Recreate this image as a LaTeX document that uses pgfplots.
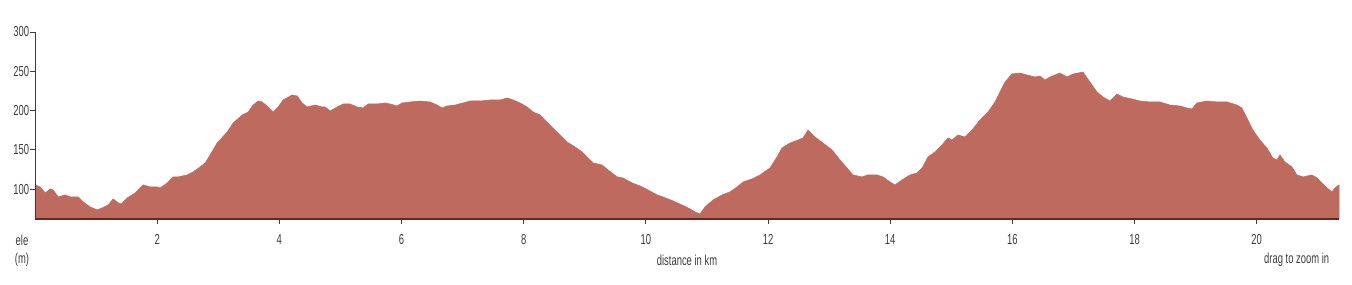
\documentclass[border=0pt]{standalone}
\usepackage{pgfplots}
\pgfplotsset{compat=1.18}
\usepackage{fontspec}
\setmainfont{Liberation Sans}[FakeStretch=0.65]
\definecolor{areafill}{RGB}{191,106,95}
\definecolor{baseline}{RGB}{92,45,40}
\definecolor{txt}{RGB}{60,60,60}
\begin{document}
\fontsize{14pt}{17pt}\selectfont
\begin{tikzpicture}[x=1pt,y=1pt]
\useasboundingbox (0,0) rectangle (1352,284);
\begin{axis}[
  at={(35pt,65pt)}, anchor=south west,
  scale only axis, width=1304pt, height=187pt,
  xmin=0, xmax=21.347, ymin=62, ymax=300,
  axis lines=left, axis line style={-},
  axis on top=true,
  x axis line style={draw=baseline, line width=2.5pt},
  y axis line style={draw=txt, line width=0.8pt},
  xtick={2,4,...,20}, ytick={100,150,...,300},
  tick align=outside, major tick length=5pt,
  tick style={draw=txt, line width=0.8pt},
  every tick label/.append style={font=\fontsize{14.5pt}{17pt}\selectfont, text=txt},
  /pgf/number format/assume math mode=true,
  xticklabel style={yshift=-6pt},
  yticklabel style={xshift=4pt},
  xlabel={distance in km},
  xlabel style={at={(rel axis cs:0.5,0)}, anchor=center, yshift=-41pt, font=\fontsize{14.5pt}{17pt}\selectfont, text=txt},
  clip=false,
]
\addplot[fill=areafill, draw=areafill, line width=0.5pt] table {
x y
0.000 105.4
0.085 102.8
0.167 95.2
0.249 100.3
0.298 99.0
0.380 90.1
0.494 92.7
0.576 90.1
0.707 90.1
0.789 83.8
0.903 77.4
1.018 73.6
1.100 76.1
1.198 79.9
1.280 87.6
1.362 82.5
1.411 81.2
1.509 88.8
1.640 95.2
1.771 105.4
1.885 102.8
2.000 102.8
2.049 101.6
2.164 107.9
2.262 115.6
2.344 115.6
2.491 118.1
2.589 121.9
2.704 128.3
2.786 133.4
2.867 143.6
2.982 158.8
3.146 172.8
3.244 184.2
3.391 194.4
3.489 198.2
3.571 207.1
3.653 212.2
3.718 211.0
3.817 204.6
3.899 198.2
3.980 204.6
4.062 213.5
4.210 219.9
4.292 218.6
4.373 209.7
4.455 204.6
4.586 207.1
4.701 204.6
4.750 204.6
4.832 199.5
4.946 204.6
5.044 208.4
5.159 208.4
5.273 204.6
5.371 203.3
5.453 208.4
5.601 208.4
5.731 209.7
5.813 208.4
5.928 205.9
6.010 209.7
6.141 211.0
6.304 212.2
6.468 211.0
6.583 207.1
6.664 203.3
6.746 205.9
6.877 207.1
7.008 209.7
7.123 212.2
7.287 212.2
7.450 213.5
7.614 213.5
7.728 216.1
7.827 213.5
7.941 209.7
8.056 204.6
8.154 198.2
8.268 194.4
8.383 185.5
8.481 177.9
8.596 169.0
8.710 160.1
8.841 153.7
8.956 147.4
9.054 139.7
9.136 133.4
9.283 130.8
9.381 124.5
9.529 115.6
9.627 114.3
9.774 107.9
9.905 104.1
10.036 99.0
10.183 92.7
10.281 90.1
10.445 85.0
10.592 79.9
10.723 74.9
10.805 71.0
10.887 68.5
10.969 77.4
11.100 86.3
11.247 92.7
11.378 96.5
11.493 102.8
11.591 109.2
11.738 113.0
11.869 118.1
12.033 127.0
12.147 141.0
12.229 152.4
12.360 158.8
12.491 162.6
12.573 165.2
12.655 175.3
12.769 166.4
12.900 158.8
13.048 149.9
13.178 137.2
13.293 127.0
13.391 118.1
13.538 115.6
13.636 118.1
13.784 118.1
13.882 115.6
13.996 109.2
14.078 105.4
14.193 111.7
14.324 118.1
14.439 120.6
14.521 127.0
14.619 141.0
14.733 147.4
14.848 156.3
14.946 165.2
15.012 162.6
15.110 169.0
15.224 166.4
15.339 175.3
15.470 188.1
15.601 198.2
15.715 211.0
15.797 223.7
15.879 236.4
15.994 246.6
16.125 247.8
16.239 245.3
16.370 242.8
16.452 244.0
16.534 238.9
16.616 242.8
16.779 247.8
16.894 242.8
16.992 246.6
17.074 247.8
17.156 249.1
17.270 236.4
17.385 223.7
17.483 217.3
17.598 212.2
17.712 221.1
17.810 217.3
17.957 214.8
18.088 212.2
18.252 211.0
18.416 211.0
18.579 207.1
18.743 205.9
18.858 203.3
18.940 202.1
19.021 209.7
19.185 212.2
19.349 211.0
19.512 211.0
19.676 207.1
19.758 203.3
19.840 190.6
19.938 175.3
20.052 162.6
20.167 152.4
20.265 139.7
20.331 137.2
20.380 143.6
20.462 134.6
20.576 128.3
20.658 118.1
20.757 115.6
20.904 118.1
20.986 114.3
21.068 107.9
21.150 101.6
21.232 96.5
21.281 101.6
21.347 105.4
} \closedcycle;
\node[align=center, text=txt, font=\fontsize{14.5pt}{18pt}\selectfont, anchor=center] at (rel axis cs:0,0) [xshift=-13pt, yshift=-32pt] {ele\\(m)};
\node[text=txt, font=\fontsize{14.5pt}{17pt}\selectfont, anchor=east] at (rel axis cs:1,0) [xshift=-5pt, yshift=-41pt] {drag to zoom in};
\end{axis}
\end{tikzpicture}
\end{document}
